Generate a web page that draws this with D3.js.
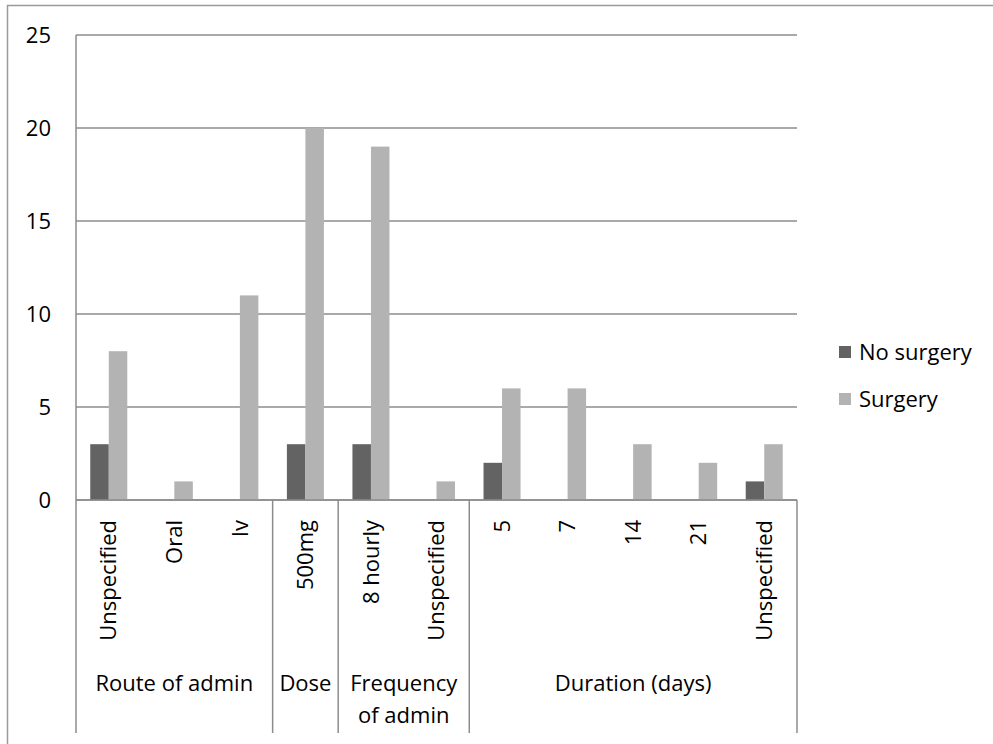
<!DOCTYPE html>
<html>
<head>
<meta charset="utf-8">
<script src="https://cdn.jsdelivr.net/npm/d3@7"></script>
<style>
  html, body { margin: 0; padding: 0; background: #fff; }
  svg { display: block; font-family: "Open Sans", "Noto Sans", sans-serif; }
</style>
</head>
<body>
<svg id="chart" width="993" height="744"></svg>
<script>
const categories = ["Unspecified", "Oral", "Iv", "500mg", "8 hourly", "Unspecified", "5", "7", "14", "21", "Unspecified"];
const groupNames = [["Route of admin"], ["Dose"], ["Frequency", "of admin"], ["Duration (days)"]];
const groupSizes = [3, 1, 2, 5];
const seriesNames = ["No surgery", "Surgery"];
const noSurgery = [3, 0, 0, 3, 3, 0, 2, 0, 0, 0, 1];
const surgery = [8, 1, 11, 20, 19, 1, 6, 6, 3, 2, 3];
const yTicks = [0, 5, 10, 15, 20, 25];
const colors = ["#636363", "#b3b3b3"];

(function () {
const svg = d3.select("#chart");
const plotLeft = 76, plotRight = 797, plotTop = 35, zeroY = 500, labelBottom = 733;
const lineColor = "#8c8c8c";
const fontSize = 22;

// outer frame (top + left)
svg.append("line").attr("x1", 7).attr("x2", 993).attr("y1", 5.5).attr("y2", 5.5)
  .attr("stroke", "#9a9a9a").attr("stroke-width", 1.5);
svg.append("line").attr("x1", 7.5).attr("x2", 7.5).attr("y1", 5).attr("y2", 744)
  .attr("stroke", "#9a9a9a").attr("stroke-width", 1.5);

const y = d3.scaleLinear().domain([0, 25]).range([zeroY, plotTop]);
const idx = categories.map((d, i) => i);
const x = d3.scaleBand().domain(idx).range([plotLeft, plotRight]).padding(0);
const xs = d3.scaleBand().domain(seriesNames).range([0, x.bandwidth()])
  .paddingInner(0).paddingOuter(0.77);

// gridlines
svg.append("g").selectAll("line").data(yTicks).join("line")
  .attr("x1", plotLeft).attr("x2", plotRight)
  .attr("y1", d => y(d)).attr("y2", d => y(d))
  .attr("stroke", lineColor).attr("stroke-width", 1.5);

// y tick labels
svg.append("g").selectAll("text").data(yTicks).join("text")
  .attr("x", 51).attr("y", d => y(d)).attr("dy", "0.35em")
  .attr("text-anchor", "end").attr("font-size", fontSize).attr("fill", "#000")
  .text(d => d);

// bars
const series = [noSurgery, surgery];
series.forEach((vals, si) => {
  svg.append("g").selectAll("rect").data(vals).join("rect")
    .attr("x", (d, i) => x(i) + xs(seriesNames[si]))
    .attr("width", xs.bandwidth())
    .attr("y", d => y(d))
    .attr("height", d => zeroY - y(d))
    .attr("fill", colors[si]);
});

// axis lines
svg.append("line").attr("x1", plotLeft).attr("x2", plotRight).attr("y1", zeroY).attr("y2", zeroY)
  .attr("stroke", lineColor).attr("stroke-width", 1.5);
svg.append("line").attr("x1", plotLeft).attr("x2", plotLeft).attr("y1", plotTop).attr("y2", labelBottom)
  .attr("stroke", lineColor).attr("stroke-width", 1.5);

// group dividers
let acc = 0;
const bounds = [0];
groupSizes.forEach(s => { acc += s; bounds.push(acc); });
const bx = b => b >= categories.length ? plotRight : x(b);
svg.append("g").selectAll("line").data(bounds.slice(1)).join("line")
  .attr("x1", bx).attr("x2", bx)
  .attr("y1", zeroY).attr("y2", labelBottom)
  .attr("stroke", lineColor).attr("stroke-width", 1.5);

// rotated category labels
svg.append("g").selectAll("text").data(categories).join("text")
  .attr("transform", (d, i) => `translate(${x(i) + x.bandwidth() / 2},520) rotate(-90)`)
  .attr("dy", "0.35em").attr("text-anchor", "end")
  .attr("font-size", fontSize).attr("fill", "#000")
  .text(d => d);

// group labels
groupNames.forEach((lines, gi) => {
  const x0 = bx(bounds[gi]);
  const x1 = bx(bounds[gi + 1]);
  const t = svg.append("text").attr("text-anchor", "middle")
    .attr("font-size", fontSize).attr("fill", "#000");
  lines.forEach((ln, li) => {
    t.append("tspan").attr("x", (x0 + x1) / 2).attr("y", 691 + li * 32).text(ln);
  });
});

// legend
const legend = svg.append("g");
seriesNames.forEach((name, i) => {
  const cy = 352 + i * 47;
  legend.append("rect").attr("x", 839).attr("y", cy - 6).attr("width", 12).attr("height", 12)
    .attr("fill", colors[i]);
  legend.append("text").attr("x", 859).attr("y", cy).attr("dy", "0.35em")
    .attr("font-size", fontSize).attr("fill", "#000").text(name);
});
})();
</script>
</body>
</html>
